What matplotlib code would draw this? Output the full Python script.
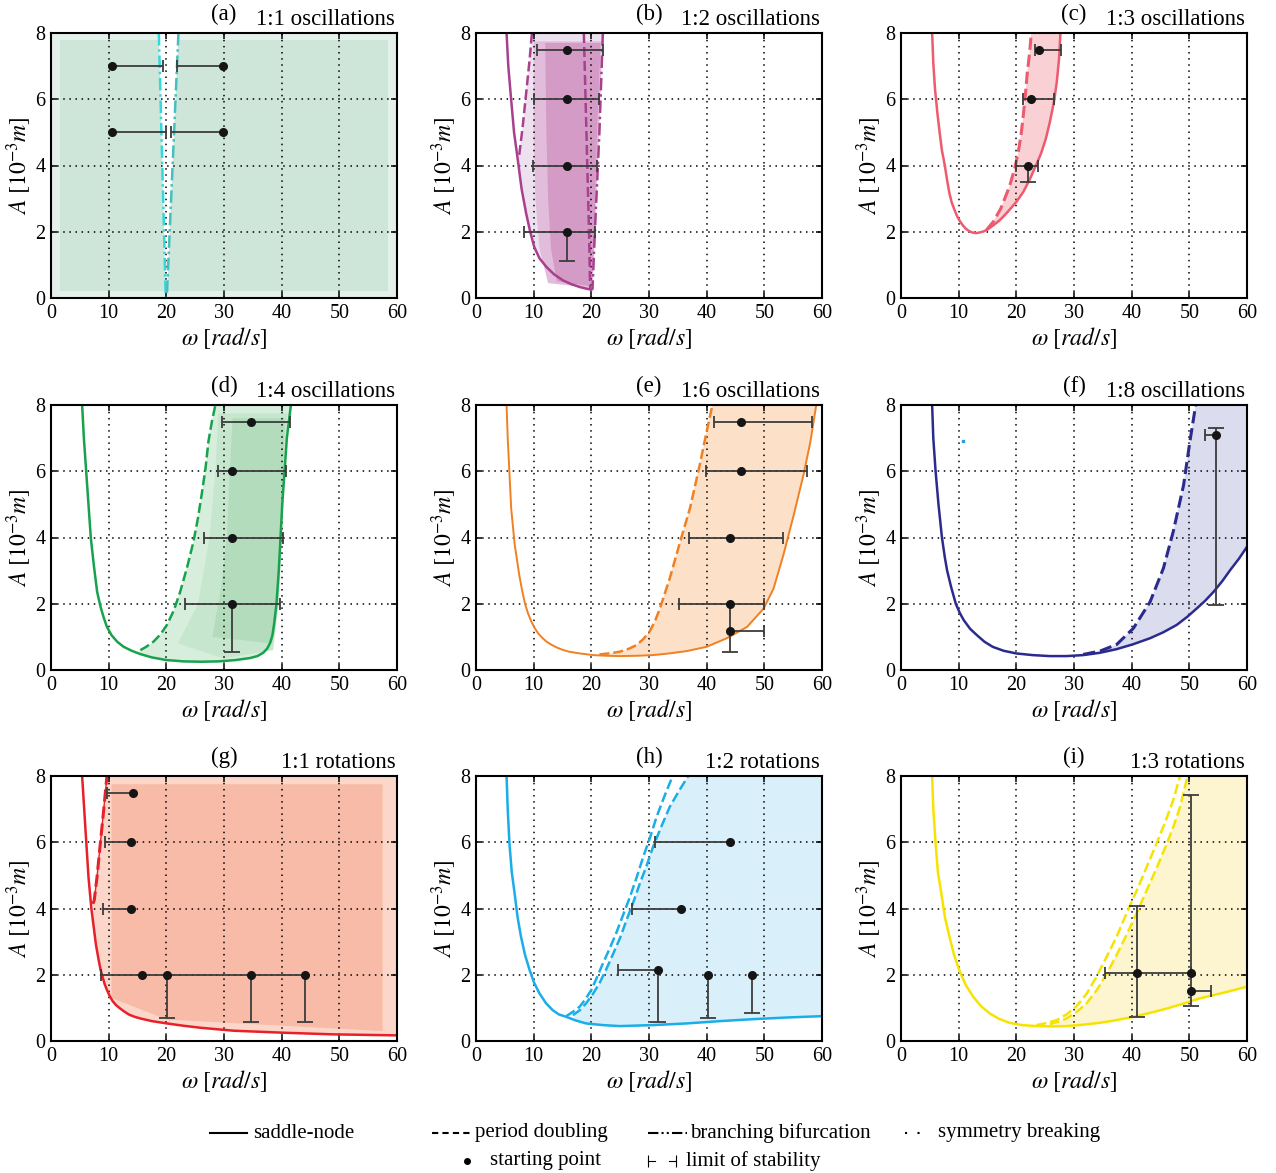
import numpy as np
import matplotlib
matplotlib.use('Agg')
import matplotlib.pyplot as plt
from matplotlib.lines import Line2D

plt.rcParams['font.family'] = ['Liberation Serif', 'DejaVu Serif']
plt.rcParams['mathtext.fontset'] = 'stix'

# ---------------- data (omega [rad/s], A [1e-3 m]) ----------------
W_LIM = [0, 60]
A_LIM = [0, 8]
x_ticks = [0, 10, 20, 30, 40, 50, 60]
y_ticks = [0, 2, 4, 6, 8]
panel_labels = ['(a)', '(b)', '(c)', '(d)', '(e)', '(f)', '(g)', '(h)', '(i)']
panel_titles = ['1:1 oscillations', '1:2 oscillations', '1:3 oscillations',
                '1:4 oscillations', '1:6 oscillations', '1:8 oscillations',
                '1:1 rotations', '1:2 rotations', '1:3 rotations']
panel_colors = ['#2fd9e0', '#a8408e', '#ee5a6e', '#18a24e', '#f08022',
                '#2b2b8e', '#e8202a', '#1aaee8', '#f6e400']

# (a) 1:1 oscillations
a_bb1_w = [18.7, 19.9]
a_bb1_A = [8.0, 0.0]
a_bb2_w = [22.1, 20.1]
a_bb2_A = [8.0, 0.1]
a_basin_w = [1.5, 58.5]
a_basin_A = [0.2, 7.8]
a_points = [(10.5, 7.0, None, 19.4, None, None), (29.9, 7.0, 21.85, None, None, None),
            (10.5, 5.0, None, 19.9, None, None), (29.9, 5.0, 20.8, None, None, None)]

# (b) 1:2 oscillations
b_sn_w = [5.3, 5.6, 6.1, 6.6, 7.25, 7.9, 8.7, 9.4, 10.1, 11.0, 12.2, 13.5, 15.1, 16.5, 18.0, 19.2, 20.0]
b_sn_A = [8.0, 7.0, 5.98, 5.0, 4.17, 3.3, 2.55, 2.0, 1.54, 1.2, 0.94, 0.72, 0.53, 0.42, 0.33, 0.28, 0.25]
b_pd1_w = [7.5, 8.1, 8.7, 9.3, 9.7]
b_pd1_A = [4.32, 5.18, 6.19, 7.2, 8.0]
b_pd2_w = [18.7, 19.0, 19.3, 19.6, 19.8]
b_pd2_A = [8.0, 6.0, 4.0, 2.0, 0.25]
b_bb_w = [22.0, 21.4, 20.6, 20.2]
b_bb_A = [8.0, 5.0, 1.95, 0.25]
b_mid_w = [12.5, 11.0, 10.3, 10.0, 10.0, 21.9, 21.3, 20.6, 20.2]
b_mid_A = [0.45, 1.5, 3.0, 5.0, 7.75, 7.75, 5.0, 2.0, 0.3]
b_dense_w = [14.0, 13.0, 12.5, 12.2, 12.0, 21.6, 21.0, 20.5, 20.1]
b_dense_A = [0.5, 1.5, 3.0, 5.0, 7.7, 7.7, 5.0, 2.0, 0.35]
b_points = [(15.8, 7.5, 10.6, 22.0, None, None), (15.8, 6.0, 10.0, 21.4, None, None),
            (15.8, 4.0, 9.9, 21.0, None, None), (15.8, 2.0, 8.4, 20.6, 1.12, None)]

# (c) 1:3 oscillations
c_sn_w = [5.4, 5.6, 5.9, 6.3, 6.7, 7.1, 7.6, 8.0, 8.4, 8.8, 9.3, 9.7, 10.1, 10.6, 11.2, 11.8,
          12.5, 13.1, 13.7, 14.3, 14.8, 15.5, 16.2, 17.0, 17.7, 18.4, 19.0, 20.0, 21.2, 22.3,
          23.4, 24.3, 25.1, 25.8, 26.5, 27.0, 27.4, 27.65]
c_sn_A = [8.0, 7.1, 6.3, 5.6, 5.0, 4.45, 4.0, 3.55, 3.16, 2.88, 2.65, 2.48, 2.35, 2.22, 2.1, 2.02,
          1.97, 1.96, 1.98, 2.01, 2.05, 2.13, 2.22, 2.33, 2.45, 2.58, 2.7, 2.9, 3.2, 3.57,
          4.0, 4.37, 4.8, 5.3, 5.9, 6.5, 7.2, 8.0]
c_pd_w = [14.8, 16.0, 17.3, 18.8, 19.7, 20.3, 20.8, 21.2, 21.6, 21.9, 22.3, 22.6]
c_pd_A = [2.05, 2.3, 2.7, 3.36, 3.9, 4.37, 4.9, 5.5, 6.2, 6.8, 7.4, 8.0]
c_points = [(23.9, 7.5, 23.2, 27.8, None, None), (22.6, 6.0, 21.2, 26.5, None, None),
            (22.1, 4.0, 19.9, 23.8, 3.5, None)]

# (d) 1:4 oscillations
d_sn_w = [5.4, 5.7, 6.1, 6.5, 6.9, 7.4, 8.0, 8.6, 9.2, 9.7, 10.5, 11.5, 12.6, 14.0, 15.5,
          17.5, 20.0, 23.0, 26.0, 29.0, 32.0, 34.5, 35.8, 36.8, 37.5, 38.0, 38.4, 38.7,
          39.1, 39.5, 39.8, 40.1, 40.5, 40.9, 41.6]
d_sn_A = [8.0, 7.0, 6.0, 5.0, 4.0, 3.2, 2.36, 1.9, 1.55, 1.3, 1.05, 0.85, 0.7, 0.58, 0.48,
          0.38, 0.3, 0.26, 0.25, 0.26, 0.3, 0.36, 0.42, 0.52, 0.65, 0.82, 1.05, 1.4,
          2.0, 3.0, 4.0, 5.0, 6.0, 7.0, 8.0]
d_pd_w = [15.5, 16.5, 17.8, 19.0, 20.1, 21.3, 22.4, 23.6, 24.7, 25.5, 26.2, 26.8, 27.3, 27.9, 28.5]
d_pd_A = [0.6, 0.7, 0.86, 1.08, 1.36, 1.8, 2.36, 3.1, 3.87, 4.6, 5.38, 6.1, 6.9, 7.5, 8.0]
d_mid_w = [22.0, 25.5, 27.5, 28.5, 29.0, 41.0, 40.3, 39.5, 38.5, 30.0]
d_mid_A = [0.8, 2.0, 4.0, 6.0, 7.75, 7.75, 5.0, 2.0, 0.6, 0.35]
d_dense_w = [28.0, 29.5, 30.5, 31.0, 31.5, 40.6, 40.0, 39.3, 38.3]
d_dense_A = [1.0, 2.5, 4.0, 6.0, 7.6, 7.6, 5.0, 2.0, 0.8]
d_points = [(34.6, 7.5, 29.65, 41.4, None, None), (31.4, 6.0, 29.0, 40.8, None, None),
            (31.4, 4.0, 26.5, 40.3, None, None), (31.4, 2.0, 23.3, 39.65, 0.55, None)]

# (e) 1:6 oscillations
e_sn_w = [5.3, 5.5, 5.7, 6.1, 6.7, 7.5, 8.0, 8.5, 9.0, 9.6, 10.2, 10.8, 11.5, 12.2, 13.0,
          14.0, 15.0, 16.2, 18.0, 20.3, 22.5, 24.9, 28.0, 30.7, 33.5, 36.5, 40.0, 43.5, 47.0,
          49.9, 51.6, 53.3, 55.1, 56.8, 58.0, 59.0]
e_sn_A = [8.0, 7.0, 6.3, 4.88, 3.8, 2.87, 2.4, 2.0, 1.72, 1.46, 1.26, 1.1, 0.97, 0.86, 0.77,
          0.68, 0.61, 0.55, 0.5, 0.45, 0.43, 0.42, 0.43, 0.45, 0.5, 0.57, 0.7, 0.96, 1.3,
          1.86, 2.46, 3.47, 4.68, 5.9, 6.9, 8.0]
e_pd_w = [21.4, 23.0, 24.9, 26.5, 27.8, 29.0, 30.1, 31.0, 31.9, 33.6, 35.4, 37.1, 38.8, 40.0, 41.0]
e_pd_A = [0.47, 0.5, 0.55, 0.64, 0.75, 0.93, 1.16, 1.46, 1.86, 2.77, 3.87, 4.88, 6.19, 7.2, 8.0]
e_points = [(45.9, 7.5, 41.2, 58.3, None, None), (45.9, 6.0, 39.9, 57.4, None, None),
            (44.0, 4.0, 37.0, 53.2, None, None), (44.0, 2.0, 35.2, 50.0, 0.55, None),
            (44.0, 1.18, None, 50.0, None, None)]

# (f) 1:8 oscillations
f_sn_w = [5.4, 5.6, 6.0, 6.5, 7.1, 7.6, 8.0, 8.7, 9.5, 10.2, 10.9, 12.0, 13.3, 14.5, 15.9,
          17.8, 20.0, 22.8, 25.8, 28.7, 31.6, 34.5, 37.4, 40.3, 43.2, 45.5, 47.8, 49.6, 51.3,
          52.8, 54.2, 55.7, 57.1, 58.6, 60.0]
f_sn_A = [8.0, 7.0, 6.0, 5.0, 4.0, 3.4, 3.0, 2.5, 2.0, 1.72, 1.5, 1.24, 1.03, 0.85, 0.7,
          0.58, 0.5, 0.45, 0.42, 0.42, 0.45, 0.52, 0.63, 0.78, 0.96, 1.14, 1.36, 1.6, 1.86,
          2.1, 2.36, 2.68, 3.02, 3.36, 3.72]
f_pd_w = [31.6, 34.5, 37.4, 40.3, 43.2, 45.5, 47.2, 49.0, 50.1, 51.1]
f_pd_A = [0.47, 0.57, 0.77, 1.26, 2.06, 3.07, 4.17, 5.58, 6.9, 8.0]
f_stray_w = [10.8]
f_stray_A = [6.9]
f_points = [(54.7, 7.1, 52.8, None, 1.96, 7.3)]

# (g) 1:1 rotations
g_sn_w = [5.4, 5.95, 6.5, 7.0, 7.4, 7.8, 8.27, 8.6, 9.0, 9.3, 9.7, 10.2, 10.7, 11.3, 12.0,
          12.7, 13.5, 14.5, 15.5, 17.5, 20.1, 23.0, 25.9, 31.7, 40.3, 49.0, 60.0]
g_sn_A = [8.0, 6.46, 4.95, 4.0, 3.45, 2.9, 2.44, 2.15, 1.9, 1.72, 1.54, 1.35, 1.2, 1.08, 0.98,
          0.89, 0.8, 0.73, 0.68, 0.6, 0.53, 0.46, 0.4, 0.31, 0.25, 0.2, 0.17]
g_pd_w = [7.3, 7.5, 7.98, 8.55, 9.13, 9.7]
g_pd_A = [4.15, 4.25, 4.95, 5.96, 6.96, 8.0]
g_dense_w = [10.5, 10.5, 57.5, 57.5, 20.0]
g_dense_A = [1.3, 7.75, 7.75, 0.3, 0.65]
g_points = [(14.2, 7.5, 9.7, None, None, None), (13.9, 6.0, 9.3, None, None, None),
            (13.9, 4.0, 9.1, None, None, None), (15.8, 2.0, None, None, None, None),
            (20.1, 2.0, None, None, 0.7, None), (34.6, 2.0, None, None, 0.56, None),
            (44.0, 2.0, 8.7, None, 0.56, None)]

# (h) 1:2 rotations
h_sn_w = [5.3, 5.5, 5.8, 6.2, 6.7, 7.2, 7.8, 8.5, 9.3, 10.1, 11.0, 12.1, 13.3, 14.4, 15.65,
          17.3, 19.1, 22.0, 24.9, 30.7, 36.5, 42.3, 48.1, 54.0, 60.0]
h_sn_A = [8.0, 7.0, 5.96, 5.1, 4.45, 3.75, 3.15, 2.6, 2.14, 1.75, 1.44, 1.15, 0.93, 0.8, 0.73,
          0.62, 0.53, 0.48, 0.45, 0.48, 0.53, 0.6, 0.66, 0.71, 0.75]
h_pd1_w = [15.65, 16.8, 18.0, 19.0, 20.0, 21.0, 22.0, 23.2, 24.3, 25.5, 26.7, 27.9, 29.0, 30.2,
           31.3, 32.7, 34.1]
h_pd1_A = [0.75, 0.88, 1.04, 1.27, 1.54, 1.93, 2.34, 2.8, 3.25, 3.8, 4.35, 4.96, 5.56, 6.15,
           6.76, 7.4, 8.0]
h_pd2_w = [16.8, 18.0, 19.1, 20.2, 21.4, 22.6, 23.8, 25.0, 26.1, 27.3, 28.4, 29.6, 30.7, 32.2,
           33.6, 35.2, 36.8]
h_pd2_A = [0.78, 0.93, 1.14, 1.4, 1.74, 2.17, 2.64, 3.12, 3.65, 4.2, 4.75, 5.3, 5.86, 6.5,
           7.07, 7.55, 8.0]
h_points = [(44.0, 6.0, 31.1, None, None, None), (35.6, 4.0, 27.1, None, None, None),
            (31.5, 2.14, 24.6, None, 0.56, None), (40.3, 2.0, None, None, 0.7, None),
            (47.8, 2.0, None, None, 0.85, None)]

# (i) 1:3 rotations
i_sn_w = [5.4, 5.6, 6.0, 6.4, 7.0, 7.6, 8.4, 9.2, 10.1, 11.2, 12.5, 13.9, 15.4, 17.0, 18.8,
          21.0, 23.5, 26.0, 28.7, 31.5, 34.5, 37.4, 40.3, 43.2, 46.1, 49.0, 51.9, 56.0, 60.0]
i_sn_A = [8.0, 7.0, 5.96, 5.1, 4.45, 3.75, 3.15, 2.6, 2.14, 1.7, 1.34, 1.05, 0.83, 0.67, 0.55,
          0.48, 0.45, 0.44, 0.45, 0.49, 0.55, 0.63, 0.73, 0.85, 0.98, 1.13, 1.29, 1.46, 1.64]
i_pd1_w = [23.5, 25.2, 27.0, 28.7, 30.4, 32.2, 33.9, 35.6, 37.4, 39.1, 40.9, 42.6, 44.3, 45.8,
           47.2, 48.4]
i_pd1_A = [0.48, 0.54, 0.63, 0.8, 1.04, 1.43, 1.94, 2.52, 3.15, 3.85, 4.55, 5.25, 5.96, 6.6,
           7.27, 8.0]
i_pd2_w = [25.8, 27.2, 28.7, 30.4, 32.2, 34.0, 35.7, 37.4, 39.1, 40.9, 42.6, 44.4, 46.1, 47.3,
           48.4, 49.7]
i_pd2_A = [0.51, 0.58, 0.68, 0.87, 1.14, 1.55, 2.04, 2.6, 3.2, 3.87, 4.55, 5.25, 5.96, 6.5,
           7.07, 8.0]
i_points = [(40.9, 2.05, 35.4, 50.3, 0.72, 4.07), (50.3, 2.05, None, None, 1.07, 7.44),
            (50.3, 1.5, None, 53.8, None, None)]

# ---------------- styling ----------------
LW = 1.8
PD = (0, (4, 1.6))
BB = (0, (5, 1.5, 1, 1.5))
EC = '#3c3c3c'
W, H = 1276, 1173
col_left = [51, 476, 901]
row_top = [33, 405, 776]
AX_W, AX_H = 346, 265

fig = plt.figure(figsize=(W / 100, H / 100), dpi=100)
axes = []
for r in range(3):
    for c in range(3):
        ax = fig.add_axes([col_left[c] / W, 1 - (row_top[r] + AX_H) / H, AX_W / W, AX_H / H])
        axes.append(ax)


def style(ax, k):
    ax.set_xlim(W_LIM)
    ax.set_ylim(A_LIM)
    ax.set_xticks(x_ticks)
    ax.set_yticks(y_ticks)
    ax.grid(True, color='black', linestyle=(0, (1, 3)), linewidth=1.1)
    ax.tick_params(direction='in', length=4, width=1.1, labelsize=14.5, pad=4,
                   top=True, right=True)
    for s in ax.spines.values():
        s.set_linewidth(1.5)
    ax.set_xlabel(r'$\omega\ [rad/s]$', fontsize=17, labelpad=2)
    ax.set_ylabel(r'$A\ [10^{-3}m]$', fontsize=17, labelpad=1)
    ax.text(0.5, 1.07, panel_labels[k], transform=ax.transAxes, ha='center', va='center', fontsize=16.5)
    ax.text(0.995, 1.012, panel_titles[k], transform=ax.transAxes, ha='right', va='bottom', fontsize=16.5)


def draw_points(ax, pts):
    for (x, y, xlo, xhi, ylo, yhi) in pts:
        for lim in (xlo, xhi):
            if lim is not None:
                ax.plot([lim, x], [y, y], color=EC, lw=1.3, zorder=5, solid_capstyle='butt')
                ax.plot([lim], [y], marker='|', ms=9, mew=1.3, color=EC, zorder=5)
        for lim in (ylo, yhi):
            if lim is not None:
                ax.plot([x, x], [lim, y], color=EC, lw=1.3, zorder=5, solid_capstyle='butt')
                ax.plot([x], [lim], marker='_', ms=12, mew=1.3, color=EC, zorder=5)
    ax.plot([p[0] for p in pts], [p[1] for p in pts], 'o', color='#151515', ms=5.5, zorder=6)


def tail_from(w, A, w0):
    w = np.asarray(w); A = np.asarray(A)
    m = w >= w0
    return w[m], A[m]


# (a)
ax = axes[0]; col = panel_colors[0]
ax.axvspan(W_LIM[0], W_LIM[1], color='#e4f1ea', lw=0, zorder=0.5)
ax.fill([a_basin_w[0], a_basin_w[1], a_basin_w[1], a_basin_w[0]],
        [a_basin_A[0], a_basin_A[0], a_basin_A[1], a_basin_A[1]], color='#cde6d9', lw=0, zorder=0.6)
ax.fill(a_bb1_w + a_bb2_w[::-1], a_bb1_A + a_bb2_A[::-1], color='white', lw=0, zorder=0.7)
ax.plot(a_bb1_w, a_bb1_A, color=col, lw=LW, ls=BB)
ax.plot(a_bb2_w, a_bb2_A, color='#46c0bd', lw=LW, ls=BB)
draw_points(ax, a_points)

# (b)
ax = axes[1]; col = panel_colors[1]
sn_w = np.array(b_sn_w); sn_A = np.array(b_sn_A)
m = sn_A <= b_pd1_A[0]
ax.fill(np.concatenate([b_pd1_w, b_bb_w, sn_w[m][::-1]]),
        np.concatenate([b_pd1_A, b_bb_A, sn_A[m][::-1]]), color='#ede1f0', lw=0, zorder=0.6)
ax.fill(b_mid_w, b_mid_A, color='#e2bddb', lw=0, zorder=0.65)
ax.fill(b_dense_w, b_dense_A, color='#d49bc7', lw=0, zorder=0.7)
ax.plot(b_sn_w, b_sn_A, color=col, lw=LW)
ax.plot(b_pd1_w, b_pd1_A, color=col, lw=LW, ls=PD)
ax.plot(b_pd2_w, b_pd2_A, color=col, lw=LW, ls=PD)
ax.plot(b_bb_w, b_bb_A, color=col, lw=LW, ls=BB)
draw_points(ax, b_points)

# (c)
ax = axes[2]; col = panel_colors[2]
tw, tA = tail_from(c_sn_w, c_sn_A, c_pd_w[0])
ax.fill(np.concatenate([c_pd_w, tw[::-1]]), np.concatenate([c_pd_A, tA[::-1]]),
        color='#f9d0d4', lw=0, zorder=0.6)
ax.plot(c_sn_w, c_sn_A, color=col, lw=LW)
ax.plot(c_pd_w, c_pd_A, color=col, lw=LW + 0.4, ls=PD)
draw_points(ax, c_points)

# (d)
ax = axes[3]; col = panel_colors[3]
tw, tA = tail_from(d_sn_w, d_sn_A, d_pd_w[0])
ax.fill(np.concatenate([d_pd_w, tw[::-1]]), np.concatenate([d_pd_A, tA[::-1]]),
        color='#d8eedd', lw=0, zorder=0.6)
ax.fill(d_mid_w, d_mid_A, color='#c6e6cd', lw=0, zorder=0.65)
ax.fill(d_dense_w, d_dense_A, color='#b3dcbd', lw=0, zorder=0.7)
ax.plot(d_sn_w, d_sn_A, color=col, lw=LW)
ax.plot(d_pd_w, d_pd_A, color=col, lw=LW, ls=PD)
draw_points(ax, d_points)

# (e)
ax = axes[4]; col = panel_colors[4]
tw, tA = tail_from(e_sn_w, e_sn_A, e_pd_w[0])
ax.fill(np.concatenate([e_pd_w, tw[::-1]]), np.concatenate([e_pd_A, tA[::-1]]),
        color='#fde0c8', lw=0, zorder=0.6)
ax.plot(e_sn_w, e_sn_A, color=col, lw=LW - 0.4)
ax.plot(e_pd_w, e_pd_A, color=col, lw=LW, ls=PD)
draw_points(ax, e_points)

# (f)
ax = axes[5]; col = panel_colors[5]
tw, tA = tail_from(f_sn_w, f_sn_A, f_pd_w[0])
ax.fill(np.concatenate([f_pd_w, [W_LIM[1]], tw[::-1]]),
        np.concatenate([f_pd_A, [A_LIM[1]], tA[::-1]]), color='#dcdcef', lw=0, zorder=0.6)
ax.plot(f_sn_w, f_sn_A, color=col, lw=LW)
ax.plot(f_pd_w, f_pd_A, color=col, lw=LW + 0.4, ls=PD)
ax.plot(f_stray_w, f_stray_A, 's', color='#2a9be0', ms=1.5)
draw_points(ax, f_points)

# (g)
ax = axes[6]; col = panel_colors[6]
tw, tA = tail_from(g_sn_w, g_sn_A, g_pd_w[0] + 0.05)
ax.fill(np.concatenate([g_pd_w, [W_LIM[1]], tw[::-1]]),
        np.concatenate([g_pd_A, [A_LIM[1]], tA[::-1]]), color='#fcd6c8', lw=0, zorder=0.6)
ax.fill(g_dense_w, g_dense_A, color='#f7bba7', lw=0, zorder=0.7)
ax.plot(g_sn_w, g_sn_A, color=col, lw=LW)
ax.plot(g_pd_w, g_pd_A, color=col, lw=1.0)
ax.plot(g_pd_w, g_pd_A, color=col, lw=LW + 0.4, ls=PD)
draw_points(ax, g_points)

# (h)
ax = axes[7]; col = panel_colors[7]
tw, tA = tail_from(h_sn_w, h_sn_A, h_pd2_w[0] + 0.1)
ax.fill(np.concatenate([h_pd2_w, [W_LIM[1]], tw[::-1]]),
        np.concatenate([h_pd2_A, [A_LIM[1]], tA[::-1]]), color='#d9effa', lw=0, zorder=0.6)
ax.plot(h_sn_w, h_sn_A, color=col, lw=LW)
ax.plot(h_pd1_w, h_pd1_A, color=col, lw=LW, ls=PD)
ax.plot(h_pd2_w, h_pd2_A, color=col, lw=LW, ls=PD)
draw_points(ax, h_points)

# (i)
ax = axes[8]; col = panel_colors[8]
tw, tA = tail_from(i_sn_w, i_sn_A, i_pd2_w[0] + 0.1)
ax.fill(np.concatenate([i_pd2_w, [W_LIM[1]], tw[::-1]]),
        np.concatenate([i_pd2_A, [A_LIM[1]], tA[::-1]]), color='#fdf5d0', lw=0, zorder=0.6)
ax.plot(i_sn_w, i_sn_A, color=col, lw=LW)
ax.plot(i_pd1_w, i_pd1_A, color=col, lw=LW, ls=PD)
ax.plot(i_pd2_w, i_pd2_A, color=col, lw=LW, ls=PD)
draw_points(ax, i_points)

for k, ax in enumerate(axes):
    style(ax, k)

# ---------------- legend ----------------
def fx(px):
    return px / W


def fy(py):
    return 1 - py / H


legend_row1 = [(210, 247, '-', 'saddle-node', 253),
               (432, 470, (0, (3, 2)), 'period doubling', 475),
               (648, 687, (0, (5, 1.5, 1, 1.5, 1, 1.5)), 'branching bifurcation', 690),
               (905, 930, (0, (1, 5)), 'symmetry breaking', 938)]
y1 = 1133
for (x0, x1, ls, txt, tx) in legend_row1:
    fig.add_artist(Line2D([fx(x0), fx(x1)], [fy(y1), fy(y1)], color='black', lw=1.5, ls=ls))
    fig.text(fx(tx), fy(y1), txt, ha='left', va='center', fontsize=15)
y2 = 1161
fig.add_artist(Line2D([fx(467)], [fy(y2)], marker='o', ms=4, color='black', lw=0))
fig.text(fx(490), fy(y2), 'starting point', ha='left', va='center', fontsize=15)
fig.add_artist(Line2D([fx(648), fx(655)], [fy(y2), fy(y2)], color='black', lw=0.8))
fig.add_artist(Line2D([fx(648)], [fy(y2)], marker='|', ms=9, mew=0.8, color='black', lw=0))
fig.add_artist(Line2D([fx(669), fx(676)], [fy(y2), fy(y2)], color='black', lw=0.8))
fig.add_artist(Line2D([fx(676)], [fy(y2)], marker='|', ms=9, mew=0.8, color='black', lw=0))
fig.text(fx(686), fy(y2), 'limit of stability', ha='left', va='center', fontsize=15)

fig.savefig('out.png', dpi=100)
